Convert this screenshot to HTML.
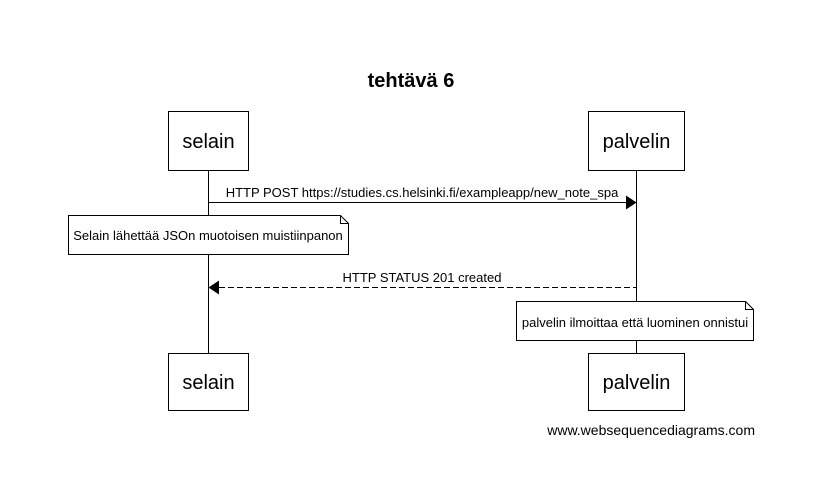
<!DOCTYPE html>
<html><head><meta charset="utf-8"><style>
html,body{margin:0;padding:0;background:#fff;}
svg{display:block;font-family:"Liberation Sans",Arial,sans-serif;}
</style></head><body>
<svg width="826" height="492" viewBox="0 0 826 492" xmlns="http://www.w3.org/2000/svg">
<rect width="826" height="492" fill="#fff"/>
<text x="411" y="87" font-size="20" font-weight="bold" text-anchor="middle" fill="#000">tehtävä 6</text>
<!-- lifelines -->
<line x1="208.5" y1="170" x2="208.5" y2="353" stroke="#000" stroke-width="1"/>
<line x1="636.5" y1="170" x2="636.5" y2="353" stroke="#000" stroke-width="1"/>
<!-- top boxes -->
<rect x="168.5" y="111.5" width="80" height="59" fill="#fff" stroke="#000"/>
<text x="208.5" y="148" font-size="20" text-anchor="middle">selain</text>
<rect x="588.5" y="111.5" width="96" height="59" fill="#fff" stroke="#000"/>
<text x="636.5" y="148" font-size="20" text-anchor="middle">palvelin</text>
<!-- message 1 -->
<text x="422" y="197" font-size="13" text-anchor="middle">HTTP POST https://studies.cs.helsinki.fi/exampleapp/new_note_spa</text>
<line x1="208.5" y1="202.5" x2="626" y2="202.5" stroke="#000"/>
<polygon points="626,195.5 636.5,202.5 626,209.5" fill="#000"/>
<!-- note 1 -->
<path d="M68.5,215.5 H340.5 L348.5,223.5 V254.5 H68.5 Z" fill="#fff" stroke="#000"/>
<path d="M340.5,215.5 V223.5 H348.5" fill="none" stroke="#000"/>
<text x="208" y="240" font-size="13" text-anchor="middle">Selain lähettää JSOn muotoisen muistiinpanon</text>
<!-- message 2 -->
<text x="422" y="282" font-size="13" text-anchor="middle">HTTP STATUS 201 created</text>
<line x1="219" y1="287.5" x2="636.5" y2="287.5" stroke="#000" stroke-dasharray="6,3"/>
<polygon points="219,280.5 208.5,287.5 219,294.5" fill="#000"/>
<!-- note 2 -->
<path d="M516.5,301.5 H745.5 L753.5,309.5 V340.5 H516.5 Z" fill="#fff" stroke="#000"/>
<path d="M745.5,301.5 V309.5 H753.5" fill="none" stroke="#000"/>
<text x="635" y="327" font-size="13" text-anchor="middle">palvelin ilmoittaa että luominen onnistui</text>
<!-- bottom boxes -->
<rect x="168.5" y="353.5" width="80" height="57" fill="#fff" stroke="#000"/>
<text x="208.5" y="389" font-size="20" text-anchor="middle">selain</text>
<rect x="588.5" y="353.5" width="96" height="57" fill="#fff" stroke="#000"/>
<text x="636.5" y="389" font-size="20" text-anchor="middle">palvelin</text>
<text x="755" y="435" font-size="14" text-anchor="end">www.websequencediagrams.com</text>
</svg>
</body></html>
